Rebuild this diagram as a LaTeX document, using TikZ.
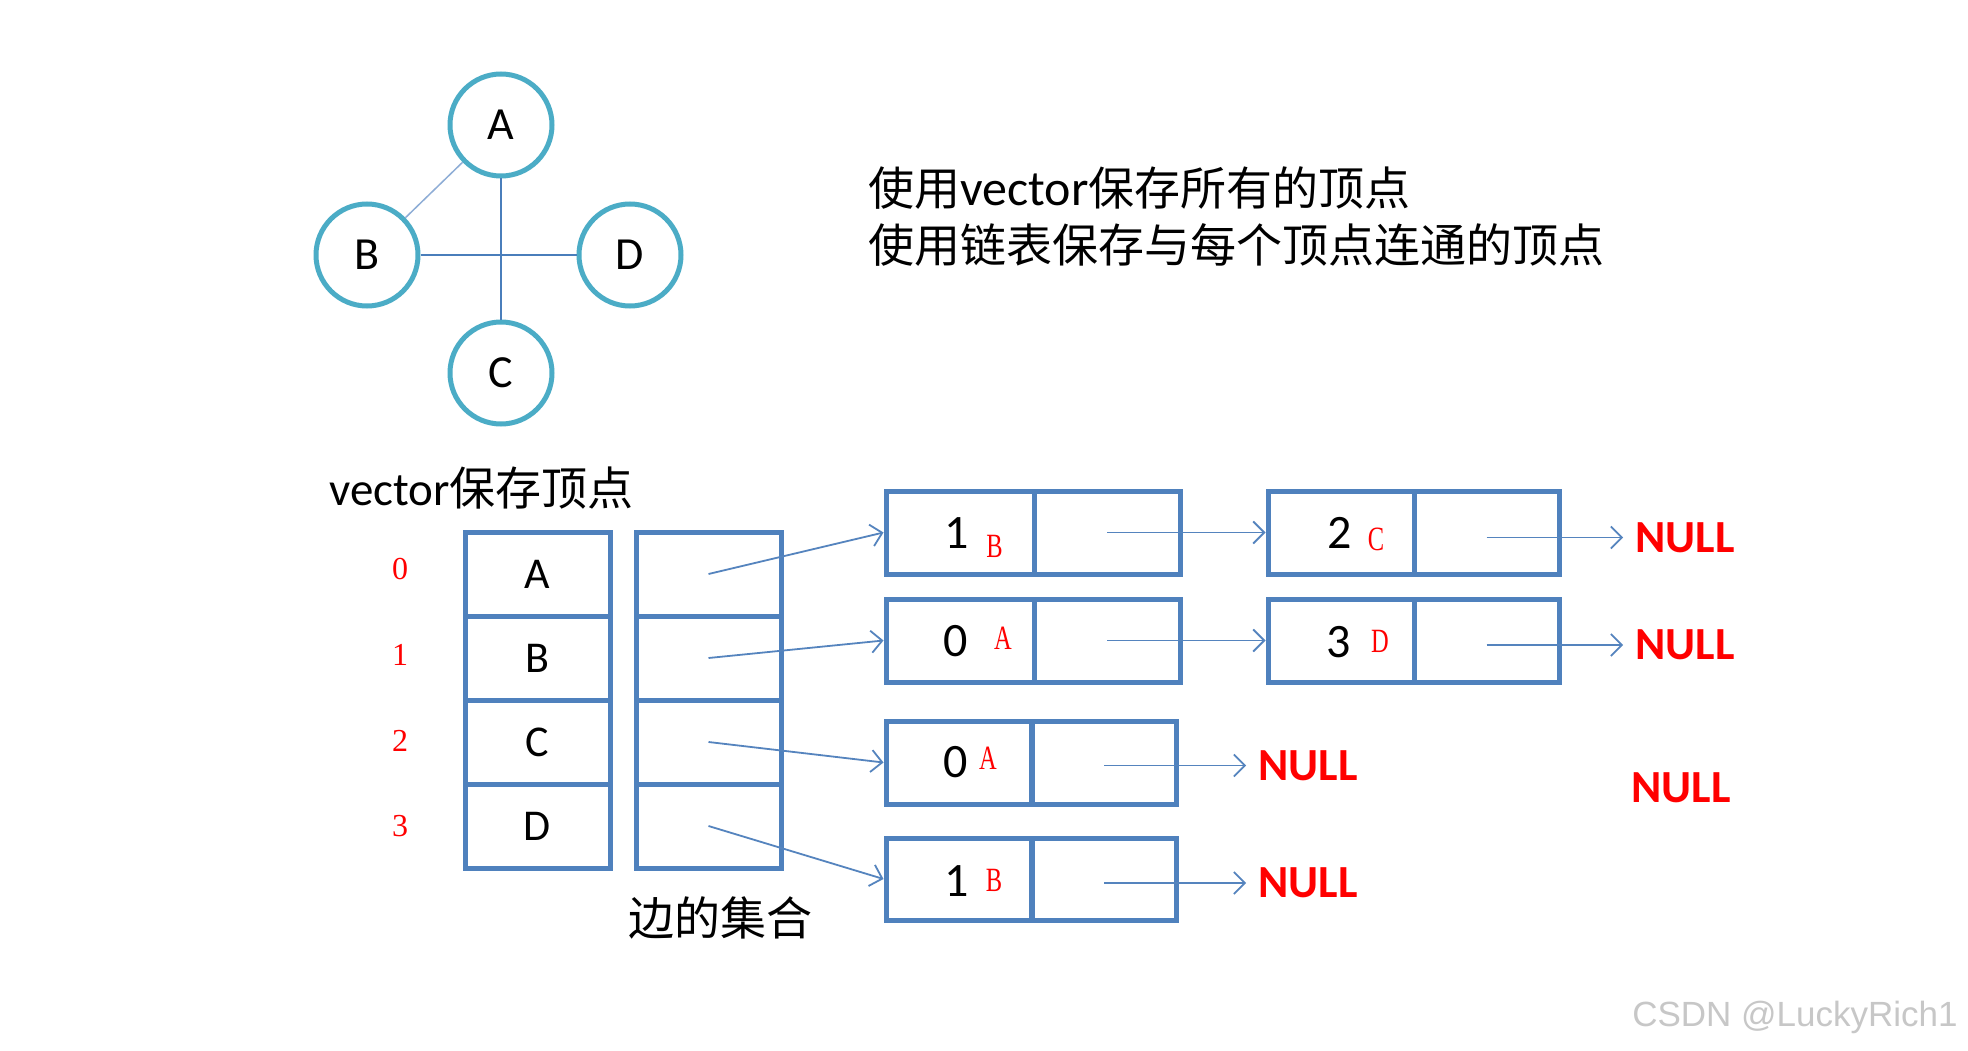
\documentclass[tikz,border=0pt]{standalone}
\usepackage{fontspec}
\usepackage{graphicx}
\setmainfont{Carlito}
\newfontfamily\cjk{Noto Sans CJK SC}
\newfontfamily\serifr{Liberation Serif}
\newfontfamily\wmfont{Liberation Sans}
\usetikzlibrary{arrows.meta}
\definecolor{circ}{HTML}{4BACC6}
\definecolor{boxblue}{HTML}{4F81BD}
\definecolor{linkblue}{HTML}{5584BE}
\definecolor{edgeblue}{HTML}{4A7EBB}
\definecolor{edgelight}{HTML}{8EADD6}
\definecolor{nullred}{HTML}{FF0000}
\newcommand{\fs}[1]{\fontsize{#1}{#1}\selectfont}
\newcommand{\sq}[1]{\scalebox{0.72}[1]{#1}}
\tikzset{
  vtx/.style={circle, draw=circ, line width=5pt, minimum size=102pt, inner sep=0pt, font=\fs{46}},
  cell/.style={rectangle, draw=boxblue, line width=5pt, minimum width=145pt, minimum height=84pt, inner sep=0pt, font=\fs{44}},
  lcell/.style={cell, minimum width=148pt, minimum height=83pt},
  rcell/.style={cell, minimum width=146pt, minimum height=83pt},
  ptr/.style={draw=linkblue, line width=1.8pt, -{Straight Barb[length=11pt,width=22pt]}},
  gedge/.style={draw=edgeblue, line width=1.8pt},
  num/.style={font=\fs{48}, inner sep=0pt},
  tag/.style={text=nullred, font=\serifr\fs{34}, inner sep=0pt},
  idx/.style={text=nullred, font=\serifr\fs{32}, inner sep=0pt},
  nullt/.style={text=nullred, font=\bfseries\fs{46}, inner ysep=0pt, inner xsep=12pt},
  txtw/.style={inner sep=0pt, anchor=west},
}
\begin{document}
\begin{tikzpicture}[x=1pt, y=-1pt]
\fill[white] (0,0) rectangle (1968,1051);
\useasboundingbox (0,0) rectangle (1968,1051);

% graph
\node[vtx] (A) at (501,125) {A};
\node[vtx] (B) at (367,255) {B};
\node[vtx] (D) at (630,255) {D};
\node[vtx] (C) at (501,373) {C};
\draw[draw=edgelight, line width=1.5pt] (A) -- (B);
\draw[gedge] (A) -- (C);
\draw[gedge] (B) -- (D);

% description
\node[txtw, font=\fs{46}] (t1) at (868,188) {{\cjk 使用}{\fs{50}vector}{\cjk 保存所有的顶点}};
\node[txtw, font=\fs{46}] (t2) at (868,245) {\cjk 使用链表保存与每个顶点连通的顶点};

% vector label
\node[txtw] (vlab) at (329,488) {{\fs{47}vector}{\cjk\fs{46}保存顶点}};

% indices
\node[idx] (i0) at (400,569) {0};
\node[idx] (i1) at (400,655) {1};
\node[idx] (i2) at (400,741) {2};
\node[idx] (i3) at (400,826) {3};

% vertex table
\node[cell] (v0) at (537.5,574) {A};
\node[cell] (v1) at (537.5,658) {B};
\node[cell] (v2) at (537.5,742) {C};
\node[cell] (v3) at (537.5,826) {D};
\node[cell] (e0) at (708.5,574) {};
\node[cell] (e1) at (708.5,658) {};
\node[cell] (e2) at (708.5,742) {};
\node[cell] (e3) at (708.5,826) {};

\node[font=\cjk\fs{46}, inner sep=0pt] (elab) at (720,918) {边的集合};

% list nodes
\node[lcell] (a1l) at (960,532.5) {};
\node[rcell] (a1r) at (1107,532.5) {};
\node[rcell] (b1l) at (1341,532.5) {};
\node[rcell, minimum width=145pt] (b1r) at (1486.5,532.5) {};
\node[lcell] (a2l) at (960,640.5) {};
\node[rcell] (a2r) at (1107,640.5) {};
\node[rcell] (b2l) at (1341,640.5) {};
\node[rcell, minimum width=145pt] (b2r) at (1486.5,640.5) {};
\node[lcell, minimum width=146pt] (a3l) at (959,762.5) {};
\node[rcell, minimum width=145pt] (a3r) at (1104,762.5) {};
\node[lcell, minimum width=146pt, minimum height=82pt] (a4l) at (959,879) {};
\node[rcell, minimum width=145pt, minimum height=82pt] (a4r) at (1104,879) {};

% contents
\node[num] (d1) at (957,533) {1};
\node[tag] (g1) at (994.5,546) {\sq{B}};
\node[num] (d2) at (1340,533) {2};
\node[tag] (g2) at (1376,539) {\sq{C}};
\node[num] (d3) at (956,641) {0};
\node[tag] (g3) at (1003,638) {\sq{A}};
\node[num] (d4) at (1339,642) {3};
\node[tag] (g4) at (1380,641) {\sq{D}};
\node[num] (d5) at (956,762) {0};
\node[tag] (g5) at (988,758) {\sq{A}};
\node[num] (d6) at (957,881) {1};
\node[tag] (g6) at (994,880) {\sq{B}};

% NULLs
\node[nullt] (n1) at (1685,537.5) {NULL};
\node[nullt] (n2) at (1685,645) {NULL};
\node[nullt] (n3) at (1308,765.5) {NULL};
\node[nullt] (n4) at (1308,883) {NULL};
\node[nullt] (n5) at (1681,788) {NULL};

% pointers
\draw[ptr] (e0.center) -- (a1l.west);
\draw[ptr] (e1.center) -- (a2l.west);
\draw[ptr] (e2.center) -- (a3l.west);
\draw[ptr] (e3.center) -- (a4l.west);
\draw[ptr] (a1r.center) -- (b1l.west);
\draw[ptr] (a2r.center) -- (b2l.west);
\draw[ptr] (b1r.center |- n1.west) -- (n1.west);
\draw[ptr] (b2r.center |- n2.west) -- (n2.west);
\draw[ptr] (a3r.center |- n3.west) -- (n3.west);
\draw[ptr] (a4r.center |- n4.west) -- (n4.west);

% watermark
\node[font=\wmfont\fs{35}, text=black!22, inner sep=0pt] (wm) at (1795,1017) {CSDN @LuckyRich1};
\end{tikzpicture}
\end{document}
